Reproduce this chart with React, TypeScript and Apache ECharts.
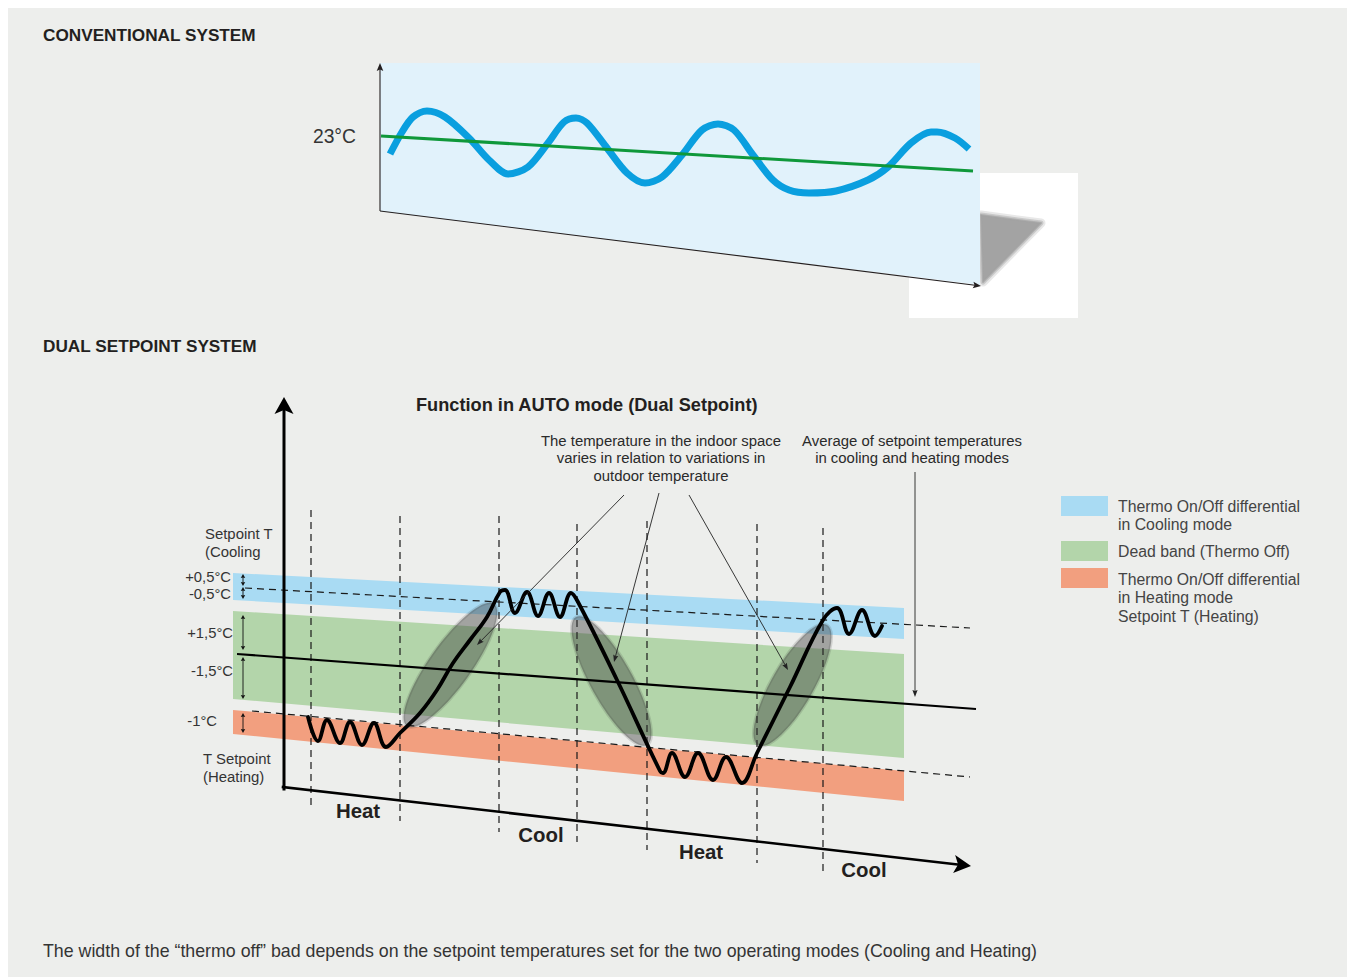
import { useEffect, useRef } from "react";
import * as echarts from "echarts";

// ---- page geometry (chart box starts at page 8,8; axes map 1:1 to page pixels) ----
const OFF = 8;
const CW = 1339;
const CH = 969;

// ---------------- Conventional system ----------------
const convPanel = [[380, 63], [980, 63], [980, 285], [380, 211]];
const convWhiteBox = [[909, 173], [1078, 173], [1078, 318], [909, 318]];
const convShadow = [[981, 215], [1041, 223], [983, 282]];
const convIndoorTemp = [
  [390, 154], [402, 132], [413, 117], [427, 111], [445, 117], [469, 138], [489, 160], [508, 174],
  [528, 167], [548, 143], [564, 122], [576, 118], [587, 123], [607, 148], [627, 173], [645, 183],
  [662, 177], [682, 155], [702, 130], [718, 124], [734, 130], [753, 155], [773, 180], [789, 190],
  [809, 193], [836, 191], [868, 180], [888, 167], [911, 143], [931, 132], [937, 132], [955, 138],
  [969, 149],
];
const convSetpoint = [[381, 136], [973, 171]];
const convAxes = [
  [380, 211, 380, 63],
  [380, 211, 981, 286],
];

// ---------------- Dual setpoint system ----------------
const bandCooling = [[233, 573], [904, 608], [904, 639], [233, 600]];
const bandDead = [[233, 611], [904, 654], [904, 758], [233, 699]];
const bandHeating = [[233, 710], [904, 771], [904, 801], [233, 734]];
const coolingSetpointLine = [245, 588, 970, 628];
const heatingSetpointLine = [252, 711, 970, 777];
const averageLine = [[237, 654], [976, 709]];
const modeDividers = [
  [311, 510, 810], [400, 516, 821], [499, 516, 832], [577, 524, 842],
  [647, 521, 850], [757, 524, 863], [823, 528, 872],
];
const indoorTemp = [
  [308, 717], [318, 741], [327, 720], [340, 743], [350, 722], [362, 745], [374, 723], [386, 747],
  [400, 733], [420, 713], [437, 690], [453, 663], [470, 640], [487, 617], [500, 592], [505, 590],
  [515, 613], [527, 592], [538, 616], [549, 593], [560, 617], [571, 593], [578, 602], [617, 680],
  [660, 771], [663, 773], [672, 753], [685, 777], [698, 753], [713, 780], [726, 757], [742, 783],
  [757, 753], [790, 687], [823, 620], [837, 608], [849, 634], [862, 610], [875, 636], [882, 626],
];
// long-axis end points + half width of the grey transition ellipses
const transitionEllipses = [
  [407, 726, 494, 604, 21],
  [576, 617, 647, 745, 21],
  [758, 745, 827, 625, 21],
];
const dualAxes = [
  [284, 789, 284, 397],
  [283, 787, 971, 866],
];
const pointerArrows = [
  [624, 495, 477, 645],
  [659, 493, 614, 662],
  [689, 495, 788, 670],
  [915, 472, 915, 697],
];
const offsetArrows = [
  [243, 574, 243, 586], [243, 587, 243, 599], [243, 615, 243, 650],
  [243, 657, 243, 699], [243, 713, 243, 733],
];
const modeLabels = ["Heat", "Cool", "Heat", "Cool"];
const offsetLabels = ["+0,5°C", "-0,5°C", "+1,5°C", "-1,5°C", "-1°C"];
const legendLabels = [
  "Thermo On/Off differential\nin Cooling mode",
  "Dead band (Thermo Off)",
  "Thermo On/Off differential\nin Heating mode\nSetpoint T (Heating)",
];
const legendColors = ["#a9dbf3", "#b3d5aa", "#f29f7f"];

// ---------------- styles ----------------
const FONT = "'Liberation Sans', Arial, Helvetica, sans-serif";
const TXT = "#343434";
const DARK = "#231f20";
const BG = "#edeeec";

const polygons = [convWhiteBox, convShadow, convShadow, convShadow, convPanel, bandCooling, bandDead, bandHeating];
const polygonStyles = [
  { fill: "#ffffff" },
  { fill: "none", stroke: "rgba(163,163,163,0.25)", lineWidth: 9, lineJoin: "round" },
  { fill: "none", stroke: "rgba(163,163,163,0.45)", lineWidth: 5, lineJoin: "round" },
  { fill: "#a3a3a3", stroke: "rgba(163,163,163,0.7)", lineWidth: 2, lineJoin: "round" },
  { fill: "#e1f2fb" },
  { fill: legendColors[0] },
  { fill: legendColors[1] },
  { fill: legendColors[2] },
];

const ARROW_STYLES = [
  { stroke: "#222222", lineWidth: 0.9, head: 7, half: 2.6, notch: 1, cap: "butt" }, // pointer
  { stroke: DARK, lineWidth: 1.1, head: 8, half: 3.3, notch: 1.5, cap: "butt" }, // conventional axes
  { stroke: "#000000", lineWidth: 3, head: 17, half: 9.5, notch: 4, cap: "square" }, // vertical dual axis
  { stroke: "#000000", lineWidth: 2.6, head: 17, half: 9, notch: 4, cap: "square" }, // horizontal dual axis
  { stroke: "#111111", lineWidth: 0.9, head: 4, half: 2.2, notch: 0.5, cap: "butt" }, // offset arrows
];

const arrowData = [
  ...convAxes.map((a) => [...a, 1, 0]),
  [...dualAxes[0], 2, 0],
  [...dualAxes[1], 3, 0],
  ...pointerArrows.map((a) => [...a, 0, 0]),
  ...offsetArrows.map((a) => [...a, 4, 1]),
];

function txt(text: string, x: number, y: number, o: any = {}) {
  return {
    type: "text",
    x: x - OFF,
    y: y - OFF,
    silent: true,
    z: 10,
    style: {
      text,
      fontFamily: FONT,
      fontSize: o.size ?? 15,
      fontWeight: o.weight ?? "normal",
      fill: o.color ?? TXT,
      align: o.align ?? "left",
      verticalAlign: o.va ?? "middle",
      lineHeight: o.lh ?? undefined,
    },
  };
}

export default function App() {
  const ref = useRef<HTMLDivElement>(null);

  useEffect(() => {
    if (!ref.current) return;
    const chart = echarts.init(ref.current, undefined, { renderer: "svg" });

    const lineSeg = (rows: number[][], style: any, z = 2) => ({
      type: "custom",
      coordinateSystem: "cartesian2d",
      silent: true,
      z,
      data: rows,
      renderItem: (_p: any, api: any) => {
        const a = api.coord([api.value(0), api.value(1)]);
        const b = api.coord([api.value(2), api.value(3)]);
        return {
          type: "line",
          shape: { x1: a[0], y1: a[1], x2: b[0], y2: b[1] },
          style: { ...style, fill: null },
        };
      },
    });

    const modeLabelPos = [[358, 811], [541, 835], [701, 852], [864, 870]];
    const offsetLabelPos = [[231, 577], [231, 594], [233, 633], [233, 671], [217, 721]];
    const legendRectY = [496, 541, 568];
    const legendTextY = [497, 542, 570];

    const graphics: any[] = [
      txt("CONVENTIONAL SYSTEM", 43, 35, { size: 17.2, weight: "bold", color: DARK }),
      txt("DUAL SETPOINT SYSTEM", 43, 346, { size: 17.2, weight: "bold", color: DARK }),
      txt("23°C", 356, 136, { size: 19.3, align: "right" }),
      txt("Function in AUTO mode (Dual Setpoint)", 416, 405, { size: 18.2, weight: "bold", color: DARK }),
      txt(
        "The temperature in the indoor space\nvaries in relation to variations in\noutdoor temperature",
        661, 432, { size: 14.9, align: "center", va: "top", lh: 17.5, color: "#2a2a2a" }
      ),
      txt("Average of setpoint temperatures\nin cooling and heating modes", 912, 432, {
        size: 14.9, align: "center", va: "top", lh: 17.5, color: "#2a2a2a",
      }),
      txt("Setpoint T\n(Cooling", 205, 525, { size: 14.9, va: "top", lh: 18 }),
      txt("T Setpoint\n(Heating)", 203, 750, { size: 14.9, va: "top", lh: 18 }),
      ...offsetLabels.map((l, i) =>
        txt(l, offsetLabelPos[i][0], offsetLabelPos[i][1], { size: 14.8, align: "right" })
      ),
      ...modeLabels.map((l, i) =>
        txt(l, modeLabelPos[i][0], modeLabelPos[i][1], {
          size: 20.4, weight: "bold", align: "center", color: DARK,
        })
      ),
      ...legendColors.map((c, i) => ({
        type: "rect",
        silent: true,
        shape: { x: 1061 - OFF, y: legendRectY[i] - OFF, width: 47, height: 20 },
        style: { fill: c },
      })),
      ...legendLabels.map((l, i) =>
        txt(l, 1118, legendTextY[i], { size: 15.8, va: "top", lh: 18.5, color: "#444444" })
      ),
      txt(
        "The width of the \u201cthermo off\u201d bad depends on the setpoint temperatures set for the two operating modes (Cooling and Heating)",
        43, 951, { size: 17.8 }
      ),
    ];

    chart.setOption({
      animation: false,
      backgroundColor: BG,
      grid: { left: 0, right: 0, top: 0, bottom: 0, containLabel: false },
      xAxis: { type: "value", min: OFF, max: OFF + CW, show: false },
      yAxis: { type: "value", min: OFF, max: OFF + CH, inverse: true, show: false },
      graphic: { elements: graphics },
      series: [
        {
          type: "custom",
          name: "areas",
          coordinateSystem: "cartesian2d",
          silent: true,
          z: 1,
          data: polygons.map((p, i) => [p[0][0], p[0][1], i]),
          renderItem: (_p: any, api: any) => {
            const idx = api.value(2);
            return {
              type: "polygon",
              shape: { points: polygons[idx].map((pt) => api.coord(pt)) },
              style: polygonStyles[idx],
            };
          },
        },
        {
          type: "line",
          name: "convIndoor",
          data: convIndoorTemp,
          smooth: 0.3,
          symbol: "none",
          silent: true,
          z: 2,
          lineStyle: { color: "#0a9fdf", width: 7, cap: "butt", join: "round" },
        },
        {
          type: "line",
          name: "convSetpoint",
          data: convSetpoint,
          symbol: "none",
          silent: true,
          z: 2,
          lineStyle: { color: "#0f983a", width: 3 },
        },
        lineSeg(
          modeDividers.map((d) => [d[0], d[1], d[0], d[2]]),
          { stroke: "#1a1a1a", lineWidth: 1.2, lineDash: [7, 5] },
          3
        ),
        lineSeg([coolingSetpointLine, heatingSetpointLine], {
          stroke: "#1a1a1a", lineWidth: 1.2, lineDash: [7, 5],
        }, 3),
        {
          type: "custom",
          name: "transitions",
          coordinateSystem: "cartesian2d",
          silent: true,
          z: 4,
          data: transitionEllipses,
          renderItem: (_p: any, api: any) => {
            const a = api.coord([api.value(0), api.value(1)]);
            const b = api.coord([api.value(2), api.value(3)]);
            const cx = (a[0] + b[0]) / 2;
            const cy = (a[1] + b[1]) / 2;
            const rx = Math.hypot(b[0] - a[0], b[1] - a[1]) / 2;
            const rot = Math.atan2(-(b[1] - a[1]), b[0] - a[0]);
            return {
              type: "ellipse",
              x: cx,
              y: cy,
              rotation: rot,
              shape: { cx: 0, cy: 0, rx, ry: api.value(4) },
              style: { fill: "rgba(50,50,50,0.4)", stroke: "rgba(50,50,50,0.15)", lineWidth: 3 },
            };
          },
        },
        {
          type: "line",
          name: "average",
          data: averageLine,
          symbol: "none",
          silent: true,
          z: 5,
          lineStyle: { color: "#000", width: 2.2 },
        },
        {
          type: "line",
          name: "indoor",
          data: indoorTemp,
          smooth: 0.4,
          symbol: "none",
          silent: true,
          z: 6,
          lineStyle: { color: "#000", width: 3.8, join: "round", cap: "round" },
        },
        {
          type: "custom",
          name: "arrows",
          coordinateSystem: "cartesian2d",
          silent: true,
          z: 7,
          data: arrowData,
          renderItem: (_p: any, api: any) => {
            const a = api.coord([api.value(0), api.value(1)]);
            const b = api.coord([api.value(2), api.value(3)]);
            const st = ARROW_STYLES[api.value(4)];
            const both = api.value(5) === 1;
            const dx = b[0] - a[0];
            const dy = b[1] - a[1];
            const len = Math.hypot(dx, dy) || 1;
            const ux = dx / len;
            const uy = dy / len;
            const head = (tip: number[], sx: number, sy: number) => ({
              type: "polygon",
              shape: {
                points: [
                  [tip[0], tip[1]],
                  [tip[0] - sx * st.head - sy * st.half, tip[1] - sy * st.head + sx * st.half],
                  [tip[0] - sx * (st.head - st.notch), tip[1] - sy * (st.head - st.notch)],
                  [tip[0] - sx * st.head + sy * st.half, tip[1] - sy * st.head - sx * st.half],
                ],
              },
              style: { fill: st.stroke },
            });
            const back = st.head - st.notch - 0.5;
            const s = both ? [a[0] + ux * back, a[1] + uy * back] : a;
            const e = [b[0] - ux * back, b[1] - uy * back];
            const children: any[] = [
              {
                type: "line",
                shape: { x1: s[0], y1: s[1], x2: e[0], y2: e[1] },
                style: { stroke: st.stroke, lineWidth: st.lineWidth, lineCap: st.cap },
              },
              head(b, ux, uy),
            ];
            if (both) children.push(head(a, -ux, -uy));
            return { type: "group", children };
          },
        },
      ],
    });

    return () => chart.dispose();
  }, []);

  return (
    <div
      ref={ref}
      style={{ position: "absolute", left: OFF, top: OFF, width: CW, height: CH }}
    />
  );
}
